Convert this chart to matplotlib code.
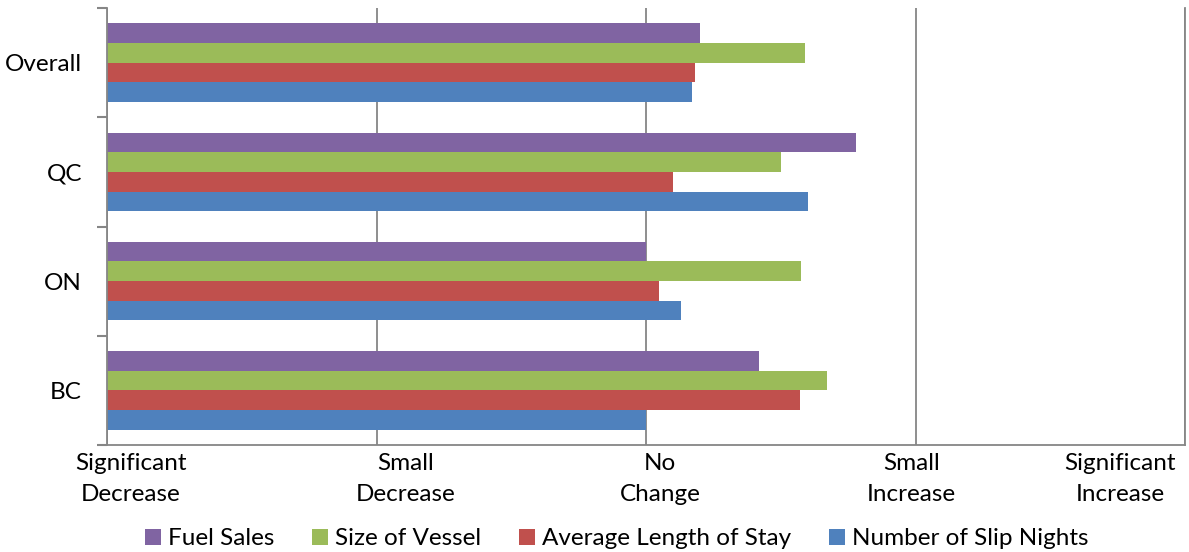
import matplotlib
matplotlib.use("Agg")
import matplotlib.pyplot as plt
import numpy as np
from matplotlib.transforms import ScaledTranslation

# data (1 = Significant Decrease ... 5 = Significant Increase)
regions = ["BC", "ON", "QC", "Overall"]
fuel_sales = [3.42, 3.00, 3.78, 3.20]
size_of_vessel = [3.67, 3.575, 3.50, 3.59]
avg_length_stay = [3.57, 3.05, 3.10, 3.18]
slip_nights = [3.00, 3.13, 3.60, 3.17]
scale_labels = ["Significant\nDecrease", "Small\nDecrease", "No\nChange", "Small\nIncrease", "Significant\nIncrease"]

series = [
    ("Fuel Sales", fuel_sales, "#8064A2"),
    ("Size of Vessel", size_of_vessel, "#9BBB59"),
    ("Average Length of Stay", avg_length_stay, "#C0504D"),
    ("Number of Slip Nights", slip_nights, "#4F81BD"),
]

plt.rcParams['font.family'] = ['Lato', 'DejaVu Sans']
grey = "#868686"
fs = 17.5

fig = plt.figure(figsize=(11.89, 5.52), dpi=100)
ax = fig.add_axes([107/1189, 1 - 445/552, (1185 - 107)/1189, (445 - 8)/552])

h = 0.18
y = np.arange(len(regions))
for i, (name, vals, col) in enumerate(series):
    offs = (1.5 - i) * h
    ax.barh(y + offs, np.array(vals) - 1, left=1, height=h, color=col, label=name, zorder=2)

ax.set_xlim(1, 5)
ax.set_ylim(-0.5, 3.5)
ax.set_xticks([1, 2, 3, 4, 5])
ax.set_xticklabels(scale_labels, fontsize=fs, linespacing=1.55)
ax.tick_params(axis='x', length=0, pad=6)
shifts = [24, 29, 14, -4, -65]
for lab, dx in zip(ax.get_xticklabels(), shifts):
    lab.set_transform(lab.get_transform() + ScaledTranslation(dx/100, 0, fig.dpi_scale_trans))

ax.set_yticks(y)
ax.set_yticklabels(regions, fontsize=fs)
ax.tick_params(axis='y', which='major', length=0, pad=18)
ax.set_yticks(np.arange(-0.5, 4, 1), minor=True)
ax.tick_params(axis='y', which='minor', length=7, width=1.5, color=grey, direction='out')

ax.grid(axis='x', color=grey, linewidth=1.3, zorder=1)
ax.set_axisbelow(True)
ax.spines['top'].set_visible(False)
for s in ['left', 'right', 'bottom']:
    ax.spines[s].set_color(grey)
    ax.spines[s].set_linewidth(1.3)

ax.legend(loc='center', bbox_to_anchor=(0.5 - 0.027, -0.215), ncol=4, frameon=False,
          fontsize=fs, handlelength=0.65, handleheight=0.65, handletextpad=0.3, columnspacing=1.55)

fig.savefig("out.png", dpi=100)
